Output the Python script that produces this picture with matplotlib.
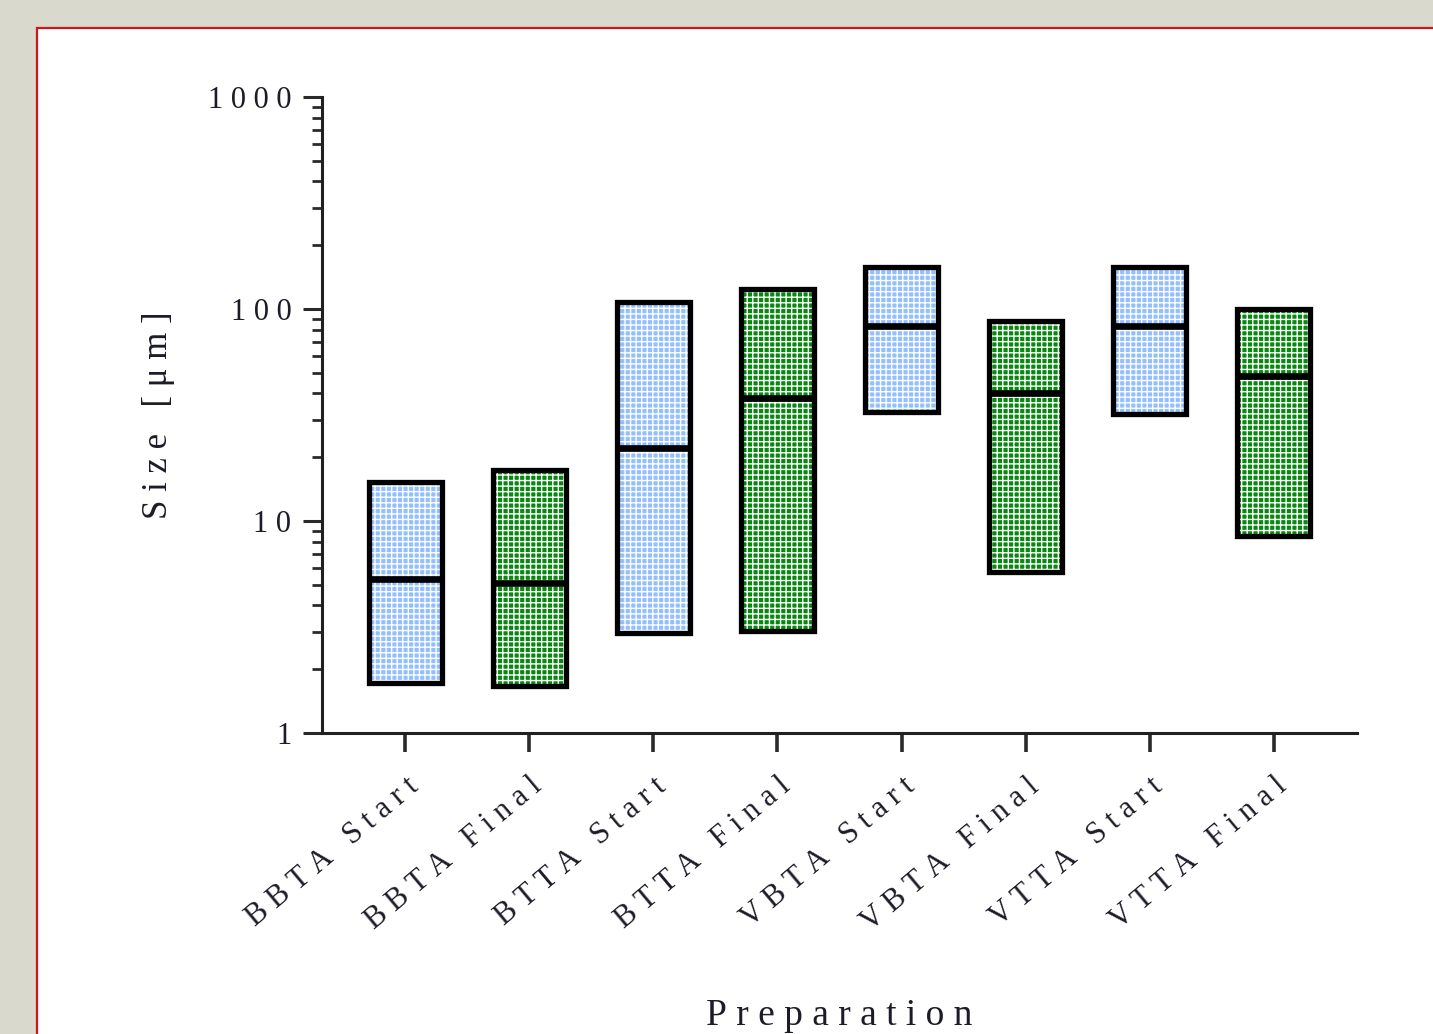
import matplotlib
matplotlib.use('Agg')
import matplotlib.pyplot as plt
from matplotlib.patches import Rectangle
import numpy as np

plt.rcParams.update({
    'font.family': ['Liberation Serif', 'DejaVu Serif'],
    'hatch.linewidth': 1.0,
})

# Particle size range (min / median / max) per preparation, in um
preparations = ['BBTA Start', 'BBTA Final', 'BTTA Start', 'BTTA Final',
                'VBTA Start', 'VBTA Final', 'VTTA Start', 'VTTA Final']
size_min = [1.72, 1.67, 2.96, 3.03, 32.7, 5.75, 32.0, 8.5]
size_max = [15.3, 17.4, 108, 124, 158, 87.8, 158, 100]
size_median = [5.33, 5.1, 22.1, 38.0, 83, 40.2, 83, 48.3]

y_ticks = [1, 10, 100, 1000]

BLUE = '#93bfff'
GREEN = '#07880f'
INK = '#1c1c28'


def tracked(s, gap='\u2005'):
    # letter-spaced label text
    return gap.join(s)


fig = plt.figure(figsize=(14.33, 10.34), dpi=100)
fig.patch.set_facecolor('#d9d9ce')

# white page with red frame, kept behind the axes
W, H = 1433.0, 1034.0
fig.patches.append(Rectangle((37 / W, -0.05), 1.1, (H - 28) / H + 0.05,
                             transform=fig.transFigure, facecolor='white',
                             edgecolor='#d0141e', linewidth=1.6, zorder=-5))

ax = fig.add_axes([322 / W, 1 - 733 / H, (1357 - 322) / W, (733 - 97) / H])
ax.set_facecolor('none')

x = np.arange(len(preparations))
lo = np.array(size_min)
hi = np.array(size_max)
colors = [BLUE if 'Start' in p else GREEN for p in preparations]
width = 0.59

# textured fill (white hatch) then black outline
ax.bar(x, hi - lo, bottom=lo, width=width, color=colors, edgecolor='white',
       linewidth=0, hatch='+++', zorder=2)
ax.bar(x, hi - lo, bottom=lo, width=width, fill=False, edgecolor='black',
       linewidth=3.8, zorder=3)
ax.hlines(size_median, x - width / 2, x + width / 2, color='black',
          linewidth=4.8, zorder=4)

ax.set_yscale('log')
ax.set_ylim(1, 1000)
ax.set_xlim(-0.67, len(preparations) - 1 + 0.67)

ax.set_yticks(y_ticks)
ax.set_yticklabels([tracked(str(t)) for t in y_ticks], fontsize=22, color=INK)
ax.set_xticks(x)
ax.set_xticklabels([tracked(p) for p in preparations], fontsize=22, color=INK,
                   rotation=40, ha='right', rotation_mode='anchor')

ax.tick_params(axis='y', which='major', length=14, width=2.2, color='#2a2a2a', pad=8)
ax.tick_params(axis='y', which='minor', length=7, width=2.0, color='#2a2a2a')
ax.tick_params(axis='x', which='major', length=14, width=2.6, color='#2a2a2a', pad=14)

for side in ['top', 'right']:
    ax.spines[side].set_visible(False)
for side in ['left', 'bottom']:
    ax.spines[side].set_linewidth(2.2)
    ax.spines[side].set_color('#202020')

ax.set_ylabel(tracked('Size [μm]'), fontsize=25, color=INK, labelpad=24)
ax.set_xlabel(tracked('Preparation'), fontsize=27, color=INK, labelpad=44)

fig.savefig('out.png', dpi=100, facecolor=fig.get_facecolor())
